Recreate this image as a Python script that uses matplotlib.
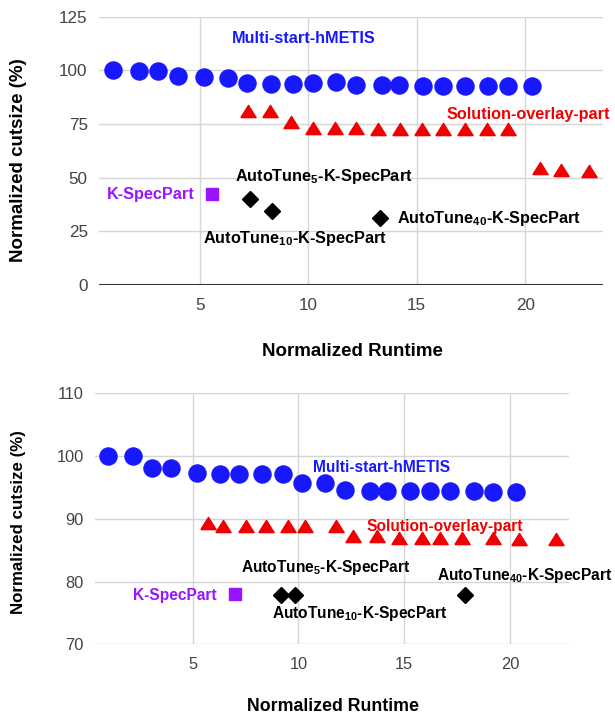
import matplotlib
matplotlib.use("Agg")
import matplotlib.pyplot as plt

plt.rcParams["font.family"] = "Liberation Sans"
plt.rcParams["mathtext.fontset"] = "custom"
plt.rcParams["mathtext.rm"] = "Liberation Sans:bold"
plt.rcParams["mathtext.it"] = "Liberation Sans:bold"
plt.rcParams["mathtext.bf"] = "Liberation Sans:bold"

# ---- top panel data ----
top_hmetis_x = [1.0, 2.2, 3.1, 4.0, 5.2, 6.3, 7.2, 8.3, 9.3, 10.2, 11.3, 12.2, 13.4, 14.2, 15.3, 16.2, 17.2, 18.3, 19.2, 20.3]
top_hmetis_y = [100, 99.6, 99.6, 97.5, 96.9, 96.6, 94.0, 93.6, 93.6, 94.0, 94.4, 93.2, 93.0, 93.0, 92.9, 92.9, 92.9, 92.9, 92.9, 92.9]
top_overlay_x = [7.25, 8.22, 9.21, 10.23, 11.22, 12.21, 13.22, 14.21, 15.22, 16.22, 17.21, 18.22, 19.21, 20.67, 21.64, 22.93]
top_overlay_y = [81.2, 81.2, 76.0, 73.3, 73.3, 73.0, 72.6, 72.5, 72.5, 72.5, 72.5, 72.5, 72.5, 54.3, 53.8, 53.3]
top_kspec = (5.56, 42.4)
top_autotune_x = [7.32, 8.35, 13.31]
top_autotune_y = [40.2, 34.3, 31.2]

# ---- bottom panel data ----
bot_hmetis_x = [0.98, 2.17, 3.07, 3.96, 5.19, 6.30, 7.19, 8.28, 9.28, 10.17, 11.26, 12.19, 13.39, 14.17, 15.28, 16.20, 17.19, 18.30, 19.19, 20.30]
bot_hmetis_y = [100, 100, 98.1, 98.1, 97.3, 97.2, 97.2, 97.2, 97.2, 95.7, 95.7, 94.6, 94.5, 94.5, 94.5, 94.5, 94.5, 94.5, 94.2, 94.2]
bot_overlay_x = [5.74, 6.43, 7.52, 8.46, 9.52, 10.33, 11.76, 12.56, 13.70, 14.78, 15.85, 16.72, 17.74, 19.19, 20.44, 22.19]
bot_overlay_y = [89.3, 88.9, 88.9, 88.9, 88.9, 88.8, 88.8, 87.3, 87.3, 86.9, 86.9, 86.9, 86.9, 86.9, 86.7, 86.7]
bot_kspec = (7.02, 78.0)
bot_autotune_x = [9.19, 9.83, 17.89]
bot_autotune_y = [77.8, 77.8, 77.8]

top_yticks = [0, 25, 50, 75, 100, 125]
bot_yticks = [70, 80, 90, 100, 110]
xticks = [5, 10, 15, 20]

BLUE = "#1818ff"
RED = "#f00000"
PURPLE = "#9a14ff"
GRID = "#d6d6d6"
TICKC = "#444444"

AT5 = r"AutoTune$_{\mathrm{5}}$-K-SpecPart"
AT10 = r"AutoTune$_{\mathrm{10}}$-K-SpecPart"
AT40 = r"AutoTune$_{\mathrm{40}}$-K-SpecPart"

# wide, flat triangle like the reference
tri = [(-1, -0.8), (1, -0.8), (0, 0.8), (-1, -0.8)]


def panel(ax, hx, hy, ox, oy, ks, ax_x, ax_y, yticks, xlim, tick_fs, labels, lab_fs):
    ax.plot(hx, hy, ls="none", marker="o", ms=12.3, color=BLUE, zorder=3)
    ax.plot(ox, oy, ls="none", marker=tri, ms=11, color=RED, zorder=3)
    ax.plot([ks[0]], [ks[1]], ls="none", marker="s", ms=8.4, color=PURPLE, zorder=3)
    ax.plot(ax_x, ax_y, ls="none", marker="D", ms=8.5, color="black", zorder=3)

    ax.set_xlim(*xlim)
    ax.set_ylim(yticks[0], yticks[-1])
    ax.set_xticks(xticks)
    ax.set_yticks(yticks)
    ax.grid(True, color=GRID, lw=1)
    ax.set_axisbelow(True)
    for s in ax.spines.values():
        s.set_visible(False)
    ax.tick_params(length=0, labelsize=tick_fs, labelcolor=TICKC)
    ax.tick_params(axis="y", pad=8)
    ax.tick_params(axis="x", pad=9)

    for txt, x, y, c in labels:
        ax.text(x, y, txt, color=c, fontsize=lab_fs, fontweight="bold",
                ha="center", va="baseline", zorder=4)


fig = plt.figure(figsize=(6.15, 7.17), dpi=100)
ax1 = fig.add_axes([0.1607, 0.6025, 0.8206, 0.3742])
ax2 = fig.add_axes([0.1541, 0.1014, 0.7712, 0.3501])

panel(ax1, top_hmetis_x, top_hmetis_y, top_overlay_x, top_overlay_y, top_kspec,
      top_autotune_x, top_autotune_y, top_yticks, (0.36, 23.6), 12.3,
      [("Multi-start-hMETIS", 9.78, 112.6, BLUE),
       ("Solution-overlay-part", 20.12, 77.4, RED),
       ("K-SpecPart", 2.76, 40.1, PURPLE),
       (AT5, 10.73, 48.4, "black"),
       (AT10, 9.39, 19.4, "black"),
       (AT40, 18.33, 29.1, "black")], 11.7)
ax1.axhline(0, color="#333333", lw=1.5, zorder=2)

panel(ax2, bot_hmetis_x, bot_hmetis_y, bot_overlay_x, bot_overlay_y, bot_kspec,
      bot_autotune_x, bot_autotune_y, bot_yticks, (0.37, 22.8), 11.8,
      [("Multi-start-hMETIS", 13.95, 97.5, BLUE),
       ("Solution-overlay-part", 16.94, 88.1, RED),
       ("K-SpecPart", 4.16, 77.1, PURPLE),
       (AT5, 11.29, 81.5, "black"),
       (AT10, 12.9, 74.2, "black"),
       (AT40, 20.7, 80.2, "black")], 11.2)

fig.text(0.5732, 0.5095, "Normalized Runtime", fontsize=13.5, fontweight="bold", ha="center", va="center")
fig.text(0.5407, 0.0144, "Normalized Runtime", fontsize=12.8, fontweight="bold", ha="center", va="center")
fig.text(0.0293, 0.7762, "Normalized cutsize (%)", fontsize=13.5, fontweight="bold",
         rotation=90, ha="center", va="center")
fig.text(0.0293, 0.2713, "Normalized cutsize (%)", fontsize=12.2, fontweight="bold",
         rotation=90, ha="center", va="center")

fig.savefig("out.png", dpi=100)
